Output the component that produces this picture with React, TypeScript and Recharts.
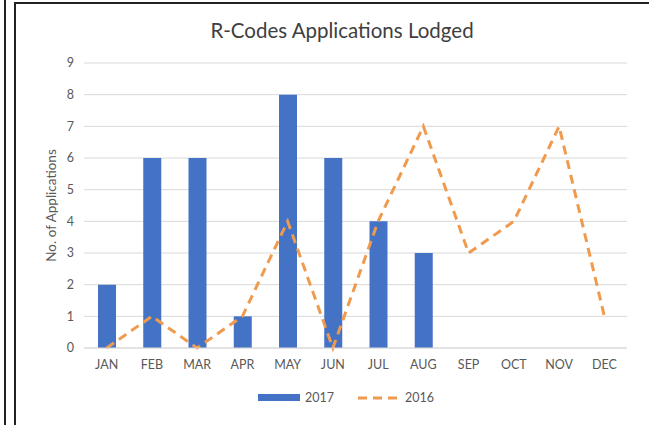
import { Bar, Line, ComposedChart, CartesianGrid, XAxis, YAxis } from "recharts";

const months = ["JAN", "FEB", "MAR", "APR", "MAY", "JUN", "JUL", "AUG", "SEP", "OCT", "NOV", "DEC"];
const lodged2017 = [2, 6, 6, 1, 8, 6, 4, 3, null, null, null, null];
const lodged2016 = [0, 1, 0, 1, 4, 0, 4, 7, 3, 4, 7, 1];
const yTicks = [0, 1, 2, 3, 4, 5, 6, 7, 8, 9];

const BLUE = "#4472C4";
const ORANGE = "#F09A4E";
const TEXT = "#595959";
const FONT = "Lato, 'Open Sans', sans-serif";

const data = months.map((m, i) => ({ month: m, y2017: lodged2017[i], y2016: lodged2016[i] }));

export default function App() {
  return (
    <div style={{ position: "fixed", left: 0, top: 0, width: 649, height: 425, background: "#fff", fontFamily: FONT }}>
      <div style={{ position: "absolute", left: 4, top: 0, width: 2, height: 425, background: "#222" }} />
      <div style={{ position: "absolute", left: 14, top: 2, right: 0, bottom: 0, borderLeft: "2px solid #222", borderTop: "2px solid #222" }} />
      <div style={{ position: "absolute", left: 0, width: 684, top: 18, textAlign: "center", fontSize: 20.5, color: "#404040" }}>
        R-Codes Applications Lodged
      </div>
      <div style={{ position: "absolute", left: 0, top: 0 }}>
        <ComposedChart width={649} height={425} data={data} margin={{ top: 63, right: 22, left: 24, bottom: 47 }}>
          <CartesianGrid vertical={false} stroke="#d9d9d9" />
          <XAxis dataKey="month" axisLine={{ stroke: "#d9d9d9" }} tickLine={false} tick={{ fontSize: 12.5, fill: TEXT, fontFamily: FONT }} tickMargin={6} height={30} interval={0} />
          <YAxis domain={[0, 9]} ticks={yTicks} axisLine={false} tickLine={false} width={60} tick={{ fontSize: 12.5, fill: TEXT, fontFamily: FONT }} tickMargin={4}
            label={{ value: "No. of Applications", angle: -90, position: "insideLeft", offset: 27, style: { textAnchor: "middle", fontSize: 13.5, fill: TEXT, fontFamily: FONT } }} />
          <Bar dataKey="y2017" fill={BLUE} barSize={18} isAnimationActive={false} />
          <Line dataKey="y2016" type="linear" stroke={ORANGE} strokeWidth={3} strokeDasharray="9 6" dot={false} isAnimationActive={false} />
        </ComposedChart>
      </div>
      <div style={{ position: "absolute", top: 390, left: 258, display: "flex", alignItems: "center", fontSize: 12.5, color: TEXT }}>
        <div style={{ width: 42, height: 7, background: BLUE }} />
        <span style={{ marginLeft: 5 }}>2017</span>
        <svg width={42} height={8} style={{ marginLeft: 24 }}>
          <line x1={0} y1={4} x2={42} y2={4} stroke={ORANGE} strokeWidth={3} strokeDasharray="9 6" />
        </svg>
        <span style={{ marginLeft: 5 }}>2016</span>
      </div>
    </div>
  );
}
